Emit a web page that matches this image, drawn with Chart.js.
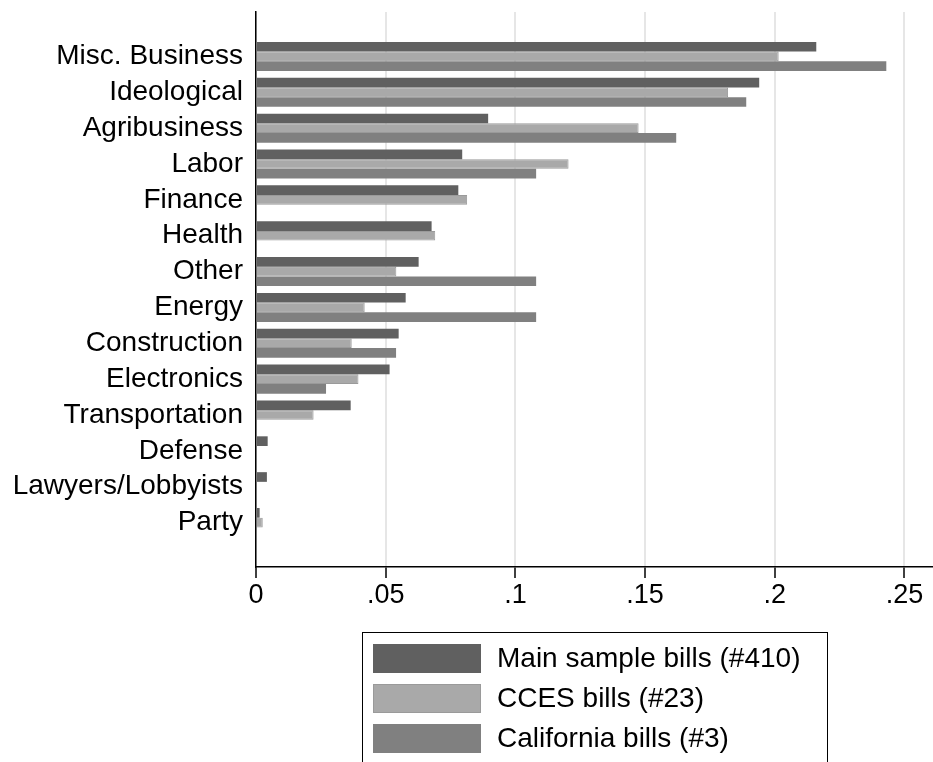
<!DOCTYPE html>
<html>
<head>
<meta charset="utf-8">
<script src="https://cdn.jsdelivr.net/npm/chart.js@4.4.1/dist/chart.umd.min.js"></script>
<style>
  html, body { margin: 0; padding: 0; background: #fff; }
  #wrap { position: relative; width: 933px; height: 762px; overflow: hidden; }
  #chart { position: absolute; left: 0; top: 0; }
  #legend {
    position: absolute; left: 362px; top: 632px; width: 466px; height: 160px;
    border: 1.5px solid #000; box-sizing: border-box;
    font-family: 'Liberation Sans', Arial, sans-serif; font-size: 28px; color: #000;
  }
  .item { position: absolute; left: 10px; height: 29px; }
  .swatch { position: absolute; left: 0; top: 0; width: 108px; height: 29px; box-sizing: border-box; }
  .label { position: absolute; left: 124px; top: -2px; white-space: nowrap; line-height: 32px; }
</style>
</head>
<body>
<div id="wrap">
  <canvas id="chart" width="933" height="762"></canvas>
  <div id="legend"></div>
</div>
<script>
const categories = ['Misc. Business', 'Ideological', 'Agribusiness', 'Labor', 'Finance', 'Health', 'Other',
    'Energy', 'Construction', 'Electronics', 'Transportation', 'Defense', 'Lawyers/Lobbyists', 'Party'];
const mainSample = [0.216, 0.194, 0.0895, 0.0795, 0.078, 0.0677, 0.0627, 0.0577, 0.055, 0.0515, 0.0365, 0.0045, 0.0042, 0.0014];
const ccesBills = [0.2015, 0.182, 0.1475, 0.1205, 0.0814, 0.0691, 0.0541, 0.0419, 0.0369, 0.0395, 0.0222, null, null, 0.0026];
const californiaBills = [0.243, 0.189, 0.162, 0.108, null, null, 0.108, 0.108, 0.054, 0.027, null, null, null, null];
const seriesLabels = ['Main sample bills (#410)', 'CCES bills (#23)', 'California bills (#3)'];
const xTicks = [0, 0.05, 0.1, 0.15, 0.2, 0.25];
const xTickLabels = ['0', '.05', '.1', '.15', '.2', '.25'];

const font = "'Liberation Sans', Arial, sans-serif";
const toPoints = values => values.map((v, i) => ({ x: v, y: i }));

const renderChart = () => {
    const ctx = document.getElementById('chart').getContext('2d');
    return new Chart(ctx, {
        type: 'bar',
        data: {
            datasets: [
                { label: seriesLabels[0], data: toPoints(mainSample), backgroundColor: '#606060', borderWidth: 0 },
                { label: seriesLabels[1], data: toPoints(ccesBills), backgroundColor: '#a9a9a9', borderColor: '#9a9a9a', borderWidth: 1 },
                { label: seriesLabels[2], data: toPoints(californiaBills), backgroundColor: '#808080', borderWidth: 0 }
            ]
        },
        options: {
            indexAxis: 'y',
            responsive: false,
            animation: false,
            categoryPercentage: 0.81,
            barPercentage: 1,
            layout: { padding: { top: 12, left: 0, right: 0, bottom: 0 } },
            plugins: { legend: { display: false }, tooltip: { enabled: false } },
            scales: {
                x: {
                    type: 'linear',
                    min: 0,
                    max: 0.261,
                    afterBuildTicks: scale => { scale.ticks = xTicks.map(v => ({ value: v })); },
                    afterFit: scale => {
                        scale.height = 195;
                        scale.paddingLeft = 0;
                        scale.paddingRight = 0;
                    },
                    ticks: {
                        callback: (v, i) => xTickLabels[i],
                        font: { family: font, size: 27 },
                        color: '#000',
                        padding: 1,
                        maxRotation: 0,
                        autoSkip: false
                    },
                    grid: { color: '#e6e6e6', lineWidth: 2, tickColor: '#000', tickWidth: 1.5, tickLength: 11 },
                    border: { color: '#000', width: 1.5 }
                },
                y: {
                    type: 'linear',
                    reverse: true,
                    offset: false,
                    min: -1.24,
                    max: 14.24,
                    afterBuildTicks: scale => { scale.ticks = categories.map((c, i) => ({ value: i })); },
                    afterFit: scale => {
                        scale.width = 256;
                        scale.paddingTop = 0;
                        scale.paddingBottom = 0;
                    },
                    ticks: {
                        callback: (v) => categories[v],
                        font: { family: font, size: 28 },
                        color: '#000',
                        padding: 13,
                        autoSkip: false
                    },
                    grid: { display: false, drawTicks: false, offset: false },
                    border: { color: '#000', width: 1.5 }
                }
            }
        }
    });
};

const renderLegend = (chart) => {
    const legend = document.getElementById('legend');
    legend.innerHTML = chart.data.datasets.map((ds, i) => `
        <div class="item" style="top:${11 + i * 40}px">
            <div class="swatch" style="background:${ds.backgroundColor};${ds.borderWidth ? 'border:1px solid ' + ds.borderColor : ''}"></div>
            <div class="label">${ds.label}</div>
        </div>
    `).join('');
};

document.addEventListener('DOMContentLoaded', () => {
    const chart = renderChart();
    renderLegend(chart);
});
</script>
</body>
</html>
